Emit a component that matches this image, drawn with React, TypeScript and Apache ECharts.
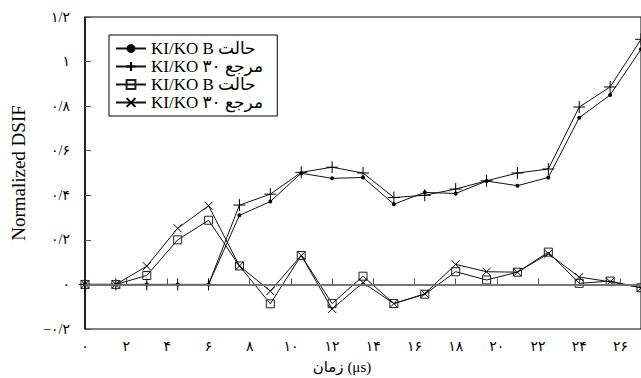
import React, { useEffect, useRef } from "react";
import * as echarts from "echarts";

const xValues = [0, 1.5, 3, 4.5, 6, 7.5, 9, 10.5, 12, 13.5, 15, 16.5, 18, 19.5, 21, 22.5, 24, 25.5, 27];

const kiB = [0, 0, 0, 0, 0, 0.31, 0.372, 0.499, 0.476, 0.48, 0.36, 0.413, 0.408, 0.464, 0.443, 0.48, 0.748, 0.85, 1.055];
const ki30 = [0, 0, 0, 0, 0, 0.356, 0.405, 0.503, 0.526, 0.5, 0.39, 0.4, 0.428, 0.465, 0.5, 0.518, 0.796, 0.886, 1.1];
const koB = [0, 0, 0.04, 0.2, 0.288, 0.083, -0.087, 0.13, -0.086, 0.037, -0.086, -0.044, 0.057, 0.02, 0.055, 0.145, 0.005, 0.015, -0.015];
const ko30 = [0, 0, 0.082, 0.252, 0.353, 0.083, -0.03, 0.13, -0.11, 0.008, -0.086, -0.042, 0.09, 0.057, 0.055, 0.138, 0.033, 0.012, -0.015];

const seriesNames = ["KI/KO B حالت", "KI/KO ۳۰ مرجع", "KI/KO B حالت ", "KI/KO ۳۰ مرجع "];

const yTicks = [-0.2, 0, 0.2, 0.4, 0.6, 0.8, 1, 1.2];
const yTickLabels = ["−۰/۲", "۰", "۰/۲", "۰/۴", "۰/۶", "۰/۸", "۱", "۱/۲"];
const xTicks = [0, 2, 4, 6, 8, 10, 12, 14, 16, 18, 20, 22, 24, 26];
const xTickLabels = ["۰", "۲", "۴", "۶", "۸", "۱۰", "۱۲", "۱۴", "۱۶", "۱۸", "۲۰", "۲۲", "۲۴", "۲۶"];

const yName = "Normalized DSIF";
const xName = "زمان (μs)";

const FONT = "'Liberation Serif', 'DejaVu Serif', 'DejaVu Sans', serif";

function pair(ys: number[]) {
  return ys.map((y, i) => [xValues[i], y]);
}

export default function App() {
  const ref = useRef<HTMLDivElement>(null);
  useEffect(() => {
    if (!ref.current) return;
    const chart = echarts.init(ref.current, undefined, { renderer: "svg" });
    const lineStyle = { color: "#111", width: 1 };
    const plusPath = "path://M5,0L5,10M0,5L10,5";
    const crossPath = "path://M0,0L10,10M0,10L10,0";
    chart.setOption({
      animation: false,
      backgroundColor: "#fff",
      grid: {
        left: 85,
        right: 0,
        top: 17,
        bottom: 49,
        outerBoundsMode: "none",
        containLabel: false,
        show: true,
        borderColor: "#000",
        borderWidth: 1,
        backgroundColor: "transparent",
      },
      legend: {
        orient: "vertical",
        left: 109,
        top: 35,
        padding: [5, 10, 5, 6],
        itemGap: 1,
        itemWidth: 30,
        itemHeight: 11,
        borderColor: "#000",
        borderWidth: 1,
        backgroundColor: "#fff",
        textStyle: { fontFamily: FONT, fontSize: 17, color: "#000" },
        data: seriesNames,
      },
      xAxis: {
        type: "value",
        min: 0,
        max: 27,
        interval: 2,
        name: xName,
        nameLocation: "middle",
        nameGap: 30,
        nameTextStyle: { fontFamily: FONT, fontSize: 15, color: "#000", padding: [0, 42, 0, 0] },
        axisLine: { show: true, lineStyle: { color: "#000", width: 1.5 } },
        axisTick: { show: true, inside: true, length: 6, lineStyle: { color: "#555" } },
        splitLine: { show: false },
        axisLabel: {
          color: "#000",
          fontFamily: FONT,
          fontSize: 14,
          margin: 10,
          formatter: (v: number) => {
            const i = xTicks.indexOf(Math.round(v));
            return i >= 0 ? xTickLabels[i] : "";
          },
        },
      },
      yAxis: {
        type: "value",
        min: -0.2,
        max: 1.2,
        interval: 0.2,
        name: yName,
        nameLocation: "middle",
        nameGap: 57,
        nameRotate: 90,
        nameTextStyle: { fontFamily: FONT, fontSize: 19, color: "#000" },
        axisLine: { show: true, lineStyle: { color: "#000", width: 1.5 } },
        axisTick: { show: true, inside: true, length: 6, lineStyle: { color: "#555" } },
        splitLine: { show: false },
        axisLabel: {
          color: "#000",
          fontFamily: FONT,
          fontSize: 14,
          margin: 15,
          formatter: (v: number) => {
            const i = yTicks.findIndex((t) => Math.abs(t - v) < 1e-6);
            return i >= 0 ? yTickLabels[i] : "";
          },
        },
      },
      series: [
        {
          name: seriesNames[0],
          type: "line",
          data: pair(kiB),
          symbol: "circle",
          symbolSize: 4,
          itemStyle: { color: "#000" },
          lineStyle,
          z: 4,
          markLine: {
            silent: true,
            symbol: "none",
            label: { show: false },
            lineStyle: { color: "#888", width: 1.5, type: "solid" },
            data: [{ yAxis: 0 }],
          },
        },
        {
          name: seriesNames[1],
          type: "line",
          data: pair(ki30),
          symbol: plusPath,
          symbolSize: 12,
          itemStyle: { color: "transparent", borderColor: "#000", borderWidth: 1 },
          lineStyle,
          z: 3,
        },
        {
          name: seriesNames[2],
          type: "line",
          data: pair(koB),
          symbol: "rect",
          symbolSize: 8,
          itemStyle: { color: "transparent", borderColor: "#222", borderWidth: 1 },
          lineStyle,
          z: 3,
        },
        {
          name: seriesNames[3],
          type: "line",
          data: pair(ko30),
          symbol: crossPath,
          symbolSize: 8,
          itemStyle: { color: "transparent", borderColor: "#000", borderWidth: 1 },
          lineStyle,
          z: 3,
        },
      ],
    });
    return () => chart.dispose();
  }, []);
  return (
    <div
      ref={ref}
      style={{ position: "fixed", left: 0, top: 0, width: 641, height: 378 }}
    />
  );
}
